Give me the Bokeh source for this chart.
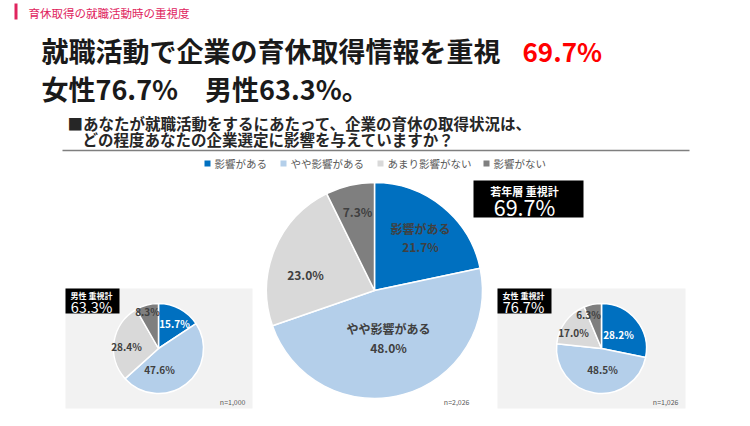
import math
from bokeh.plotting import figure
from bokeh.models import Range1d, ColumnDataSource
from bokeh.core.properties import value
from bokeh.embed import file_html
from bokeh.resources import INLINE

# ---------------- data ----------------
categories = ["影響がある", "やや影響がある", "あまり影響がない", "影響がない"]
total_values = [21.7, 48.0, 23.0, 7.3]
male_values = [15.7, 47.6, 28.4, 8.3]
female_values = [28.2, 48.5, 17.0, 6.3]
total_n = "n=2,026"
male_n = "n=1,000"
female_n = "n=1,026"
total_score = 69.7
male_score = 63.3
female_score = 76.7

colors = ["#0070c0", "#b4cfea", "#d9d9d9", "#7f7f7f"]
FONT = value("Noto Sans CJK JP")

W, H = 734, 410
p = figure(width=W, height=H, output_backend="svg", toolbar_location=None,
           x_range=Range1d(0, W), y_range=Range1d(0, H), min_border=0)
p.axis.visible = False
p.grid.visible = False
p.outline_line_color = None
p.background_fill_color = "white"


def Y(py):
    return H - py


def txt(x, y, s, size, color="#262626", align="left", style="normal", baseline="middle"):
    p.text(x=[x], y=[Y(y)], text=[s], text_font=FONT, text_font_size=size,
           text_color=color, text_align=align, text_baseline=baseline,
           text_font_style=style)


# header
p.quad(left=[14], right=[17], top=[Y(3)], bottom=[Y(19)], color="#e0245e", line_color=None)
txt(28, 12, "育休取得の就職活動時の重視度", "11.5px", color="#e0245e")

# title
txt(41, 50, "就職活動で企業の育休取得情報を重視", "27px", color="#1a1a1a", style="bold")
txt(522, 50, f"{total_score}%", "26px", color="#ff0000", style="bold")
txt(41, 88, f"女性{female_score}%　男性{male_score}%。", "27px", color="#1a1a1a", style="bold")

# question
txt(67, 122, "■あなたが就職活動をするにあたって、企業の育休の取得状況は、", "15.5px", color="#262626", style="bold")
txt(82, 138, "どの程度あなたの企業選定に影響を与えていますか？", "15.5px", color="#262626", style="bold")
p.segment(x0=[62], y0=[Y(150)], x1=[689], y1=[Y(150)], line_color="#7f7f7f", line_width=1.5)

# legend
leg_sq = [207, 283, 380, 486]
leg_tx = [214, 290, 387, 493]
for c, name, sx, tx in zip(colors, categories, leg_sq, leg_tx):
    p.quad(left=[sx - 3], right=[sx + 3], top=[Y(160)], bottom=[Y(166)], color=c, line_color=None)
    txt(tx, 163, name, "10.5px", color="#595959")

# panels
p.quad(left=[65], right=[252], top=[Y(288)], bottom=[Y(408)], color="#f2f2f2", line_color=None)
p.quad(left=[497], right=[685], top=[Y(288)], bottom=[Y(408)], color="#f2f2f2", line_color=None)


def pie(cx, cy, r, vals):
    tot = sum(vals)
    cum = 0.0
    starts, ends = [], []
    for v in vals:
        s = cum / tot
        cum += v
        e = cum / tot
        starts.append(math.pi / 2 - 2 * math.pi * e)
        ends.append(math.pi / 2 - 2 * math.pi * s)
    src = ColumnDataSource(dict(x=[cx] * len(vals), y=[Y(cy)] * len(vals),
                                start=starts, end=ends, color=colors))
    p.wedge(x="x", y="y", radius=r, start_angle="start", end_angle="end",
            fill_color="color", line_color="white", line_width=1.5, source=src)


# big pie
pie(374, 290, 108, total_values)
txt(420, 228, categories[0], "12px", color="#404040", align="center", style="bold")
txt(420, 246, f"{total_values[0]}%", "12px", color="#404040", align="center", style="bold")
txt(388, 328, categories[1], "12px", color="#404040", align="center", style="bold")
txt(388, 347, f"{total_values[1]}%", "12px", color="#404040", align="center", style="bold")
txt(305, 274, f"{total_values[2]}%", "12px", color="#404040", align="center", style="bold")
txt(357, 211, f"{total_values[3]}%", "12px", color="#404040", align="center", style="bold")
txt(469, 401, total_n, "7px", color="#595959", align="right")

# big score box
p.quad(left=[473], right=[583], top=[Y(180)], bottom=[Y(217)], color="black", line_color=None)
txt(524, 190, "若年層 重視計", "11px", color="white", align="center", style="bold")
txt(524, 206, f"{total_score}%", "21.5px", color="white", align="center")

# male pie
pie(158, 348, 45, male_values)
txt(174, 323, f"{male_values[0]}%", "10px", color="white", align="center", style="bold")
txt(159, 369, f"{male_values[1]}%", "10px", color="#404040", align="center", style="bold")
txt(126, 346, f"{male_values[2]}%", "10px", color="#404040", align="center", style="bold")
txt(147, 311, f"{male_values[3]}%", "10px", color="#404040", align="center", style="bold")
txt(245, 401, male_n, "7px", color="#595959", align="right")
p.quad(left=[65], right=[119], top=[Y(288)], bottom=[Y(313)], color="black", line_color=None)
txt(91, 295, "男性 重視計", "8px", color="white", align="center", style="bold")
txt(91, 306, f"{male_score}%", "14.5px", color="white", align="center")

# female pie
pie(601, 348, 45, female_values)
txt(618, 334, f"{female_values[0]}%", "10px", color="white", align="center", style="bold")
txt(602, 369, f"{female_values[1]}%", "10px", color="#404040", align="center", style="bold")
txt(573, 332, f"{female_values[2]}%", "10px", color="#404040", align="center", style="bold")
txt(588, 314, f"{female_values[3]}%", "10px", color="#404040", align="center", style="bold")
txt(678, 401, female_n, "7px", color="#595959", align="right")
p.quad(left=[497], right=[551], top=[Y(288)], bottom=[Y(313)], color="black", line_color=None)
txt(523, 295, "女性 重視計", "8px", color="white", align="center", style="bold")
txt(523, 306, f"{female_score}%", "14.5px", color="white", align="center")

open("out.html", "w").write(file_html(p, INLINE))
